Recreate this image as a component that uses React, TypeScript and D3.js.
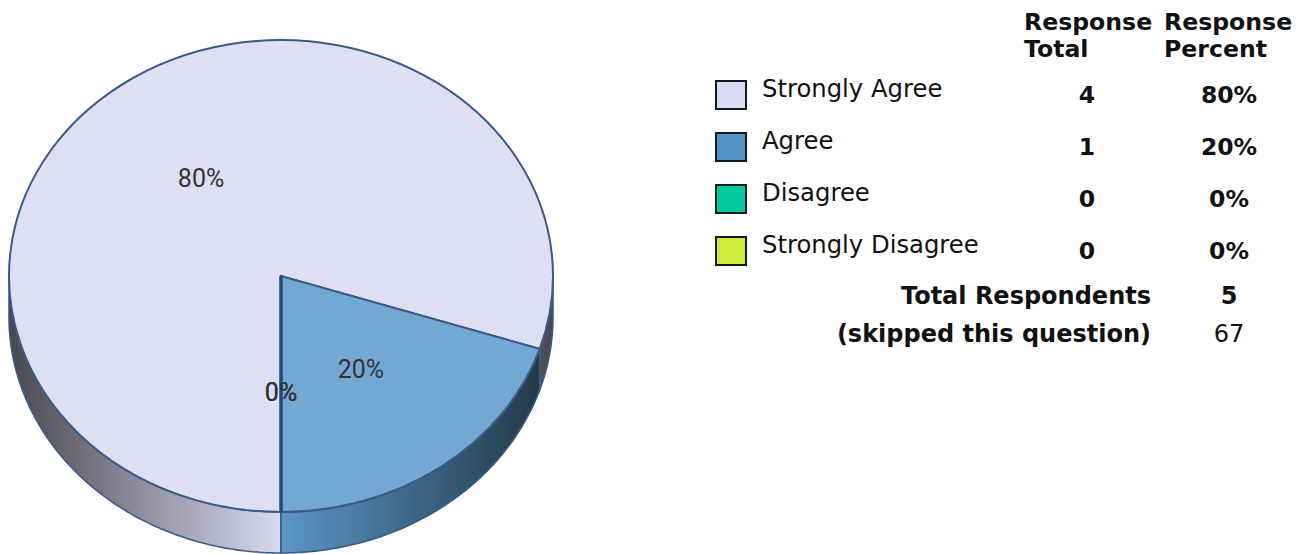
import * as d3 from 'd3';

const categories = ['Strongly Agree', 'Agree', 'Disagree', 'Strongly Disagree'];
const responseTotals = [4, 1, 0, 0];
const responsePercents = [80, 20, 0, 0];
const faceColors = ['#dfdff3', '#73a8d2', '#00c89c', '#cff03c'];
const wallLight = ['#d9d9ef', '#5b96c6', '#00c89c', '#cff03c'];
const wallDark = ['#48484f', '#1f3544', '#00c89c', '#cff03c'];
const swatchColors = ['#d9d9ef', '#5592c4', '#00c99b', '#cdec3a'];
const headers = [
  ['Response', 'Total'],
  ['Response', 'Percent'],
];
const totalRespondents = 5;
const skipped = 67;

const cx = 281;
const cy = 276;
const rx = 272;
const ry = 236;
const depth = 41;

const fontFamily = '"DejaVu Sans", Verdana, sans-serif';
const edge = '#3a5b86';

type Slice = d3.PieArcDatum<number>;

const pie = d3
  .pie<number>()
  .sort(null)
  .startAngle(Math.PI)
  .endAngle(3 * Math.PI);
const slices: Slice[] = pie(responsePercents);

const arc = d3.arc<Slice>().innerRadius(0).outerRadius(rx);

const rowY = d3.scaleLinear().domain([0, 1]).range([95, 147]);

// the wall is only seen between 3 o'clock and 9 o'clock
function wallRanges(s: Slice) {
  const out: [number, number][] = [];
  for (const k of [0, 1]) {
    const a = Math.max(s.startAngle, Math.PI / 2 + 2 * Math.PI * k);
    const b = Math.min(s.endAngle, (3 * Math.PI) / 2 + 2 * Math.PI * k);
    if (b > a) out.push([a, b]);
  }
  return out;
}

function wallPath(a: number, b: number) {
  const angles = d3.range(0, 61).map((i) => a + ((b - a) * i) / 60);
  const line = d3.line<[number, number]>();
  const top = angles.map((t) => [cx + rx * Math.sin(t), cy - ry * Math.cos(t)] as [number, number]);
  const bottom = angles
    .slice()
    .reverse()
    .map((t) => [cx + rx * Math.sin(t), cy + depth - ry * Math.cos(t)] as [number, number]);
  return line([...top, ...bottom]) + 'Z';
}

export default function App() {
  const walls = [];
  const faces = [];
  const labels = [];
  for (let i = 0; i < slices.length; i++) {
    const s = slices[i];
    const ranges = wallRanges(s);
    for (let j = 0; j < ranges.length; j++) {
      walls.push(
        <path
          key={`wall${i}_${j}`}
          d={wallPath(ranges[j][0], ranges[j][1])}
          fill={`url(#wallGrad${i})`}
          stroke={edge}
          strokeWidth={1.6}
          strokeLinejoin='round'
        />
      );
    }
    faces.push(
      <path
        key={`face${i}`}
        d={arc(s) || ''}
        fill={faceColors[i]}
        stroke={responsePercents[i] === 0 ? '#234a78' : edge}
        strokeWidth={responsePercents[i] === 0 ? 3 : 2}
        vectorEffect='non-scaling-stroke'
      />
    );
    const c = arc.centroid(s);
    labels.push(
      <text
        key={`label${i}`}
        x={cx + c[0]}
        y={cy + (c[1] * ry) / rx}
        textAnchor='middle'
        dominantBaseline='middle'
        fontFamily='"Liberation Sans Narrow", Roboto, sans-serif'
        fontSize={25}
        fill='#333'
      >
        {responsePercents[i]}%
      </text>
    );
  }

  const rows = categories.map((name, i) => (
    <g key={name}>
      <rect
        x={716}
        y={rowY(i) - 14}
        width={30}
        height={28}
        fill={swatchColors[i]}
        stroke='#0d1a24'
        strokeWidth={2}
      />
      <text x={762} y={rowY(i) + 2} fontSize={24.3} fill='#111'>
        {name}
      </text>
      <text x={1087} y={rowY(i) + 8} fontSize={23.5} fontWeight='bold' textAnchor='middle' fill='#111'>
        {responseTotals[i]}
      </text>
      <text x={1229} y={rowY(i) + 8} fontSize={23.5} fontWeight='bold' textAnchor='middle' fill='#111'>
        {responsePercents[i]}%
      </text>
    </g>
  ));

  return (
    <svg
      width={1308}
      height={554}
      style={{ position: 'absolute', left: 0, top: 0 }}
      fontFamily={fontFamily}
    >
      <defs>
        {slices.map((_, i) => (
          <linearGradient
            key={i}
            id={`wallGrad${i}`}
            gradientUnits='userSpaceOnUse'
            x1={cx - rx}
            x2={cx + rx}
            y1={0}
            y2={0}
          >
            <stop offset='0' stopColor={wallDark[i]} />
            <stop offset='0.5' stopColor={wallLight[i]} />
            <stop offset='1' stopColor={wallDark[i]} />
          </linearGradient>
        ))}
      </defs>
      <g>{walls}</g>
      <g transform={`translate(${cx},${cy}) scale(1,${ry / rx})`}>{faces}</g>
      <g>{labels}</g>
      <g fontSize={23.6} fontWeight='bold' fill='#111'>
        {headers.map((h, i) => (
          <g key={i}>
            <text x={i === 0 ? 1024 : 1164} y={30}>
              {h[0]}
            </text>
            <text x={i === 0 ? 1024 : 1164} y={57}>
              {h[1]}
            </text>
          </g>
        ))}
      </g>
      <g>{rows}</g>
      <g fontSize={24} fill='#111'>
        <text x={1151} y={304} fontWeight='bold' textAnchor='end'>
          Total Respondents
        </text>
        <text x={1229} y={304} fontWeight='bold' textAnchor='middle'>
          {totalRespondents}
        </text>
        <text x={1151} y={342} fontWeight='bold' textAnchor='end'>
          (skipped this question)
        </text>
        <text x={1229} y={342} textAnchor='middle'>
          {skipped}
        </text>
      </g>
    </svg>
  );
}
